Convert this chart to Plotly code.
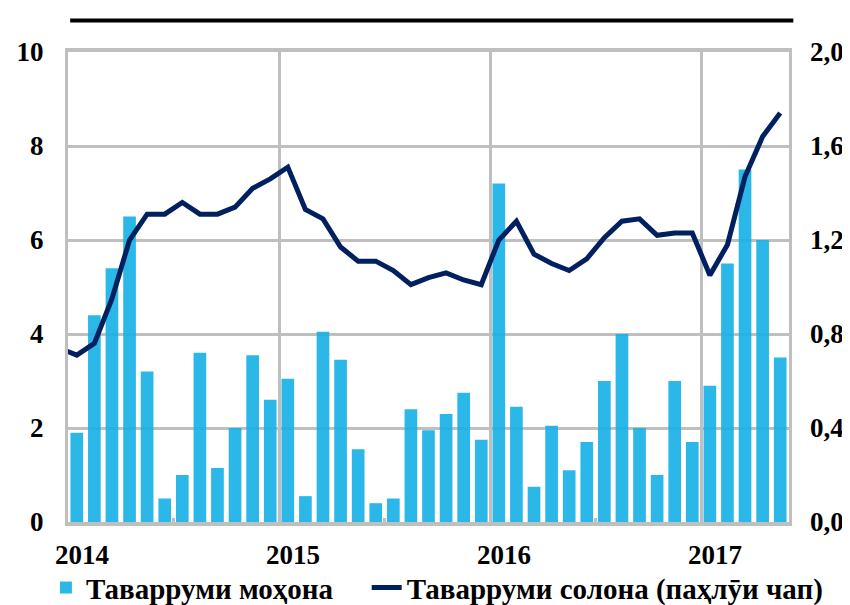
import plotly.graph_objects as go

# ---- data ----
years = ["2014", "2015", "2016", "2017"]
months_per_year = [12, 12, 12, 5]

monthly_turnover = [
    1.9, 4.4, 5.4, 6.5, 3.2, 0.5, 1.0, 3.6, 1.15, 2.0, 3.55, 2.6,      # 2014
    3.05, 0.55, 4.05, 3.45, 1.55, 0.4, 0.5, 2.4, 1.95, 2.3, 2.75, 1.75,  # 2015
    7.2, 2.45, 0.75, 2.05, 1.1, 1.7, 3.0, 4.0, 2.0, 1.0, 3.0, 1.7,     # 2016
    2.9, 5.5, 7.5, 6.0, 3.5,                                          # 2017
]

annual_prev = 0.74  # Dec 2013 value (line enters from the left edge)
annual_turnover = [
    0.71, 0.76, 0.95, 1.20, 1.31, 1.31, 1.36, 1.31, 1.31, 1.34, 1.42, 1.46,  # 2014
    1.51, 1.33, 1.29, 1.17, 1.11, 1.11, 1.07, 1.01, 1.04, 1.06, 1.03, 1.01,  # 2015
    1.20, 1.28, 1.14, 1.10, 1.07, 1.12, 1.21, 1.28, 1.29, 1.22, 1.23, 1.23,  # 2016
    1.05, 1.18, 1.47, 1.64, 1.74,                                            # 2017
]

left_ticks = [0, 2, 4, 6, 8, 10]
right_ticks = [0.0, 0.4, 0.8, 1.2, 1.6, 2.0]

name_bar = "Таварруми моҳона"
name_line = "Таварруми солона (паҳлӯи чап)"

# ---- positions (month index, centred in month slot) ----
n = len(monthly_turnover)
x_bar = [i + 0.5 for i in range(n)]
x_line = [-0.5] + x_bar
y_line = [annual_prev] + annual_turnover
year_starts = []
acc = 0
for m in months_per_year:
    year_starts.append(acc)
    acc += m

TICKFONT = dict(family="Liberation Serif", size=27, color="#000000", weight="bold")
LEGFONT = dict(family="Liberation Serif", size=29, color="#000000", weight="bold")
GRID = "#BFBFBF"

fig = go.Figure()
fig.add_trace(go.Bar(
    x=x_bar, y=monthly_turnover, name=name_bar,
    marker=dict(color="#1BB2E6", line=dict(width=0)),
    opacity=0.93, yaxis="y", legend="legend",
))
fig.add_trace(go.Scatter(
    x=x_line, y=y_line, name=name_line, mode="lines",
    line=dict(color="#002060", width=5),
    yaxis="y2", legend="legend2",
))

# page has an 8px body margin, so the figure is 842x597
fig.update_layout(
    width=842, height=597,
    margin=dict(l=60, r=61, t=44, b=83, autoexpand=False),
    paper_bgcolor="white", plot_bgcolor="white",
    separators=", ",
    bargap=0.28,
    font=TICKFONT,
    showlegend=True,
    legend=dict(
        orientation="h", xref="container", yref="container",
        x=0.045, xanchor="left", y=0.029, yanchor="middle",
        font=LEGFONT, itemwidth=30, bgcolor="rgba(0,0,0,0)",
    ),
    legend2=dict(
        orientation="h", xref="container", yref="container",
        x=0.426, xanchor="left", y=0.029, yanchor="middle",
        font=LEGFONT, itemwidth=30, bgcolor="rgba(0,0,0,0)",
    ),
    xaxis=dict(
        range=[0, n], automargin=False,
        tickmode="array", tickvals=year_starts, ticktext=years,
        ticklabelshift=14, ticklabelstandoff=6,
        showgrid=True, gridcolor=GRID, gridwidth=2.5,
        ticks="inside", ticklen=4, tickwidth=3, tickcolor=GRID,
        minor=dict(tickmode="linear", tick0=0, dtick=6, ticks="inside",
                   ticklen=4, tickwidth=3, tickcolor=GRID, showgrid=False),
        showline=True, linecolor=GRID, linewidth=3.5, mirror=True,
        zeroline=False, tickfont=TICKFONT, fixedrange=True,
    ),
    yaxis=dict(
        range=[0, 10], automargin=False, tickmode="array", tickvals=left_ticks,
        showgrid=True, gridcolor=GRID, gridwidth=2.5,
        ticks="", ticklabelstandoff=16,
        showline=True, linecolor=GRID, linewidth=3, mirror=True,
        zeroline=False, tickfont=TICKFONT,
    ),
    yaxis2=dict(
        range=[0, 2], automargin=False, overlaying="y", side="right",
        tickmode="array", tickvals=right_ticks, tickformat=".1f",
        showgrid=False, ticks="", ticklabelstandoff=20,
        zeroline=False, tickfont=TICKFONT,
    ),
    shapes=[dict(
        type="line", xref="paper", yref="paper",
        x0=0.003, x1=1.006, y0=1.067, y1=1.067,
        line=dict(color="#000000", width=4),
    )],
)

fig.write_html("out.html")
